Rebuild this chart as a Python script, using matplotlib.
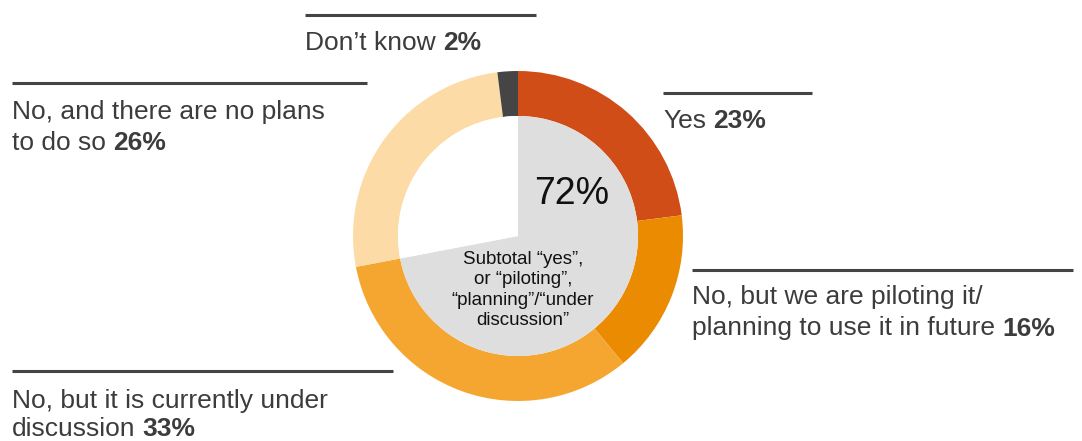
import matplotlib
matplotlib.use("Agg")
import matplotlib.pyplot as plt

# Survey answers, clockwise from 12 o'clock
categories = ["Yes", "No, but we are piloting it/\nplanning to use it in future",
              "No, but it is currently under\ndiscussion", "No, and there are no plans\nto do so",
              "Don\u2019t know"]
shares = [23, 16, 33, 26, 2]
colors = ["#D04D17", "#EB8B02", "#F5A631", "#FDDBA7", "#454545"]
subtotal_label = "Subtotal \u201cyes\u201d,\nor \u201cpiloting\u201d,\n\u201cplanning\u201d/\u201cunder\ndiscussion\u201d"

plt.rcParams["font.family"] = ["Liberation Sans", "DejaVu Sans"]

W, H = 1082, 441
fig = plt.figure(figsize=(W / 100, H / 100), dpi=100)
ax = fig.add_axes([0, 0, 1, 1])

cx, cy = 518, H - 236
r_out, r_in = 165, 120

ax.pie(shares, radius=r_out, center=(cx, cy), startangle=90, counterclock=False,
       colors=colors, wedgeprops=dict(width=r_out - r_in, linewidth=0))

subtotal = sum(shares[:3])
ax.pie([subtotal, sum(shares) - subtotal], radius=r_in, center=(cx, cy), startangle=90,
       counterclock=False, colors=["#DEDEDE", "white"], wedgeprops=dict(linewidth=0))

ax.set_xlim(0, W)
ax.set_ylim(0, H)
ax.set_aspect("auto")
ax.axis("off")

ax.text(cx + 54, H - 204, f"{subtotal}%", fontsize=27, color="#111111",
        ha="center", va="baseline")
ax.text(cx + 5, H - 290, subtotal_label, fontsize=13.5, color="#111111",
        ha="center", va="center", linespacing=1.28)

text_color = "#3C3C3C"
fs = 19
renderer = fig.canvas.get_renderer()


def label(x, line_y, line_x1, first_base, text, value, line_step=31.5):
    ax.plot([x, line_x1], [H - line_y, H - line_y], color="#444444", lw=2.2,
            solid_capstyle="butt")
    rows = text.split("\n")
    for i, row in enumerate(rows):
        yb = H - (first_base + i * line_step)
        t = ax.text(x, yb, row, fontsize=fs, color=text_color, ha="left", va="baseline")
        if i == len(rows) - 1:
            bb = t.get_window_extent(renderer)
            ax.text(bb.x1 + 7, yb, f"{value}%", fontsize=fs, color=text_color,
                    fontweight="bold", ha="left", va="baseline")


label(663, 93, 812, 128, categories[0], shares[0])
label(692, 270, 1073, 304, categories[1], shares[1])
label(12, 371, 393, 408, categories[2], shares[2], line_step=28)
label(12, 83, 367, 119, categories[3], shares[3])
label(305, 15, 536, 50, categories[4], shares[4])

fig.savefig("out.png", dpi=100)
